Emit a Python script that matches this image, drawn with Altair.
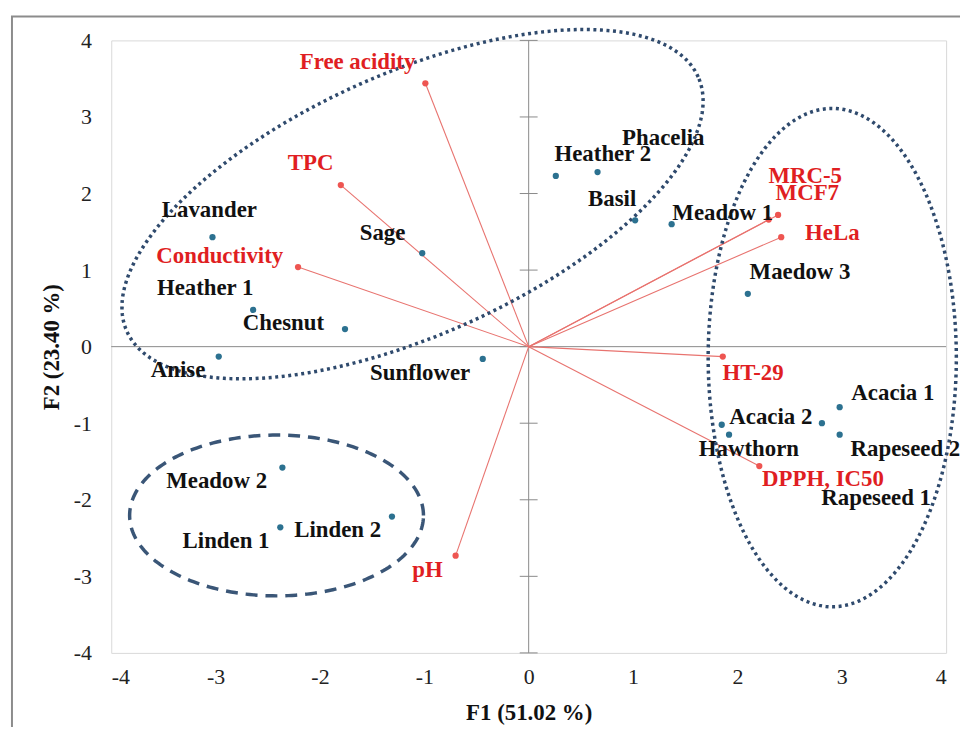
import numpy as np
import pandas as pd
import altair as alt

# ---- data ----
sample_names = ["Lavander", "Heather 1", "Chesnut", "Anise", "Sage", "Sunflower",
                "Heather 2", "Phacelia", "Basil", "Meadow 1", "Maedow 3",
                "Acacia 1", "Acacia 2", "Hawthorn", "Rapeseed 2", "Rapeseed 1",
                "Meadow 2", "Linden 1", "Linden 2"]
sample_f1 = [-3.03, -2.64, -1.76, -2.97, -1.02, -0.44, 0.26, 0.66, 1.02, 1.37, 2.10,
             2.98, 2.81, 1.92, 2.98, 1.85, -2.36, -2.38, -1.31]
sample_f2 = [1.43, 0.48, 0.23, -0.13, 1.22, -0.16, 2.23, 2.28, 1.65, 1.60, 0.69,
             -0.79, -1.00, -1.15, -1.15, -1.02, -1.58, -2.36, -2.22]
sample_label_f1 = [-3.06, -3.10, -2.35, -3.36, -1.40, -1.04, 0.71, 1.29, 0.80, 1.86, 2.60,
                   3.49, 2.32, 2.11, 3.61, 3.33, -2.99, -2.90, -1.83]
sample_label_f2 = [1.78, 0.77, 0.31, -0.30, 1.49, -0.35, 2.52, 2.72, 1.93, 1.74, 0.97,
                   -0.61, -0.92, -1.34, -1.34, -1.98, -1.75, -2.54, -2.40]

var_names = ["Free acidity", "TPC", "Conductivity", "MRC-5", "MCF7", "HeLa",
             "HT-29", "DPPH, IC50", "pH"]
var_f1 = [-0.99, -1.80, -2.21, 2.39, 2.30, 2.42, 1.86, 2.21, -0.70]
var_f2 = [3.44, 2.11, 1.04, 1.72, 1.66, 1.43, -0.13, -1.56, -2.73]
var_label_f1 = [-1.64, -2.09, -2.96, 2.65, 2.67, 2.91, 2.15, 2.82, -0.97]
var_label_f2 = [3.72, 2.40, 1.18, 2.23, 2.00, 1.49, -0.34, -1.73, -2.92]

axis_ticks = [-4, -3, -2, -1, 0, 1, 2, 3, 4]

# group ellipses: centre (data units), semi-axes (screen px), rotation (deg)
ell_cx = [-1.113, 2.909, -2.416]
ell_cy = [1.861, -0.143, -2.205]
ell_a = [315, 125, 148]
ell_b = [132, 251, 81]
ell_rot = [24, 0, 0]
ell_style = ["dot", "dot", "dash"]

# ---- layout ----
W, H = 841, 617
SX, SY = W / 8.0, H / 8.0
FONT = "Liberation Serif"

samples = pd.DataFrame({"name": sample_names, "f1": sample_f1, "f2": sample_f2,
                        "lx": sample_label_f1, "ly": sample_label_f2})
variables = pd.DataFrame({"name": var_names, "f1": var_f1, "f2": var_f2,
                          "lx": var_label_f1, "ly": var_label_f2})

rows = []
t = np.linspace(0, 2 * np.pi, 241)
for i in range(len(ell_cx)):
    r = np.deg2rad(ell_rot[i])
    ux = ell_a[i] * np.cos(t)
    vy = ell_b[i] * np.sin(t)
    px = ux * np.cos(r) - vy * np.sin(r)
    py = ux * np.sin(r) + vy * np.cos(r)
    for k in range(len(t)):
        rows.append({"e": i, "k": k, "style": ell_style[i],
                     "x": ell_cx[i] + px[k] / SX, "y": ell_cy[i] + py[k] / SY})
ell = pd.DataFrame(rows)

xs = alt.Scale(domain=[-4, 4], nice=False, zero=False)
ys = alt.Scale(domain=[-4, 4], nice=False, zero=False)

xaxis = alt.Axis(values=axis_ticks, labelExpr="'' + datum.value", grid=False,
                 domain=False, ticks=False, labelPadding=14,
                 labelFont=FONT, labelFontSize=22,
                 title="F1 (51.02 %)", titlePadding=14)
yaxis = alt.Axis(values=axis_ticks, labelExpr="'' + datum.value", grid=False,
                 domain=False, ticks=False, labelPadding=20,
                 labelFont=FONT, labelFontSize=22,
                 title="F2 (23.40 %)", titlePadding=10)


def X(field):
    return alt.X(field, scale=xs, axis=xaxis)


def Y(field):
    return alt.Y(field, scale=ys, axis=yaxis)


vline = alt.Chart(pd.DataFrame({"v": [0]})).mark_rule(color="#8a8a8a", strokeWidth=1).encode(
    x=X("v:Q"),
)
hline = alt.Chart(pd.DataFrame({"v": [0]})).mark_rule(color="#8a8a8a", strokeWidth=1).encode(
    y=Y("v:Q"),
)
tickdf = pd.DataFrame({"y": axis_ticks})
half = 9.0 / SX
ticks = alt.Chart(tickdf).mark_rule(color="#8a8a8a", strokeWidth=1).encode(
    y=Y("y:Q"),
    x=alt.datum(-half, scale=xs, axis=xaxis), x2=alt.datum(half),
)

frame = alt.Chart(pd.DataFrame({"v": [0]})).mark_rect(
    filled=False, stroke="#8c8c8c", strokeWidth=2
).encode(x=alt.value(-100), x2=alt.value(1100), y=alt.value(-24), y2=alt.value(900))

dots = alt.Chart(ell[ell["style"] == "dot"]).mark_line(
    color="#2f4a6d", strokeWidth=3.5, strokeDash=[3, 3.6], strokeCap="butt"
).encode(x=X("x:Q"), y=Y("y:Q"), detail="e:N", order="k:Q")
dashes = alt.Chart(ell[ell["style"] == "dash"]).mark_line(
    color="#3a5677", strokeWidth=3.5, strokeDash=[12, 8], strokeCap="butt"
).encode(x=X("x:Q"), y=Y("y:Q"), detail="e:N", order="k:Q")

vectors = alt.Chart(variables).mark_rule(color="#e8736f", strokeWidth=1.1).encode(
    x=X("f1:Q"), y=Y("f2:Q"),
    x2=alt.datum(0), y2=alt.datum(0),
)
var_pts = alt.Chart(variables).mark_circle(color="#ee5551", size=40, opacity=1).encode(
    x=X("f1:Q"), y=Y("f2:Q"))
var_txt = alt.Chart(variables).mark_text(
    font=FONT, fontSize=23, fontWeight="bold", color="#e01e22",
    align="center", baseline="middle"
).encode(x=X("lx:Q"), y=Y("ly:Q"), text="name:N")

smp_pts = alt.Chart(samples).mark_circle(color="#2c7190", size=40, opacity=1).encode(
    x=X("f1:Q"), y=Y("f2:Q"))
smp_txt = alt.Chart(samples).mark_text(
    font=FONT, fontSize=23, fontWeight="bold", color="#111111",
    align="center", baseline="middle"
).encode(x=X("lx:Q"), y=Y("ly:Q"), text="name:N")

chart = alt.layer(
    frame, vline, hline, ticks, vectors, dots, dashes,
    smp_pts, var_pts, smp_txt, var_txt
).properties(
    width=W, height=H,
    autosize=alt.AutoSizeParams(type="none"),
    padding={"left": 104, "top": 30, "right": 14, "bottom": 72},
    background="white",
).configure_view(
    stroke="#d9d9d9", strokeWidth=1
).configure_axis(
    labelFont=FONT, labelFontSize=22, labelColor="#222222",
    titleFont=FONT, titleFontSize=23, titleFontWeight="bold", titleColor="#111111",
)

chart.save("out.html", embed_options={"renderer": "svg", "actions": False})
